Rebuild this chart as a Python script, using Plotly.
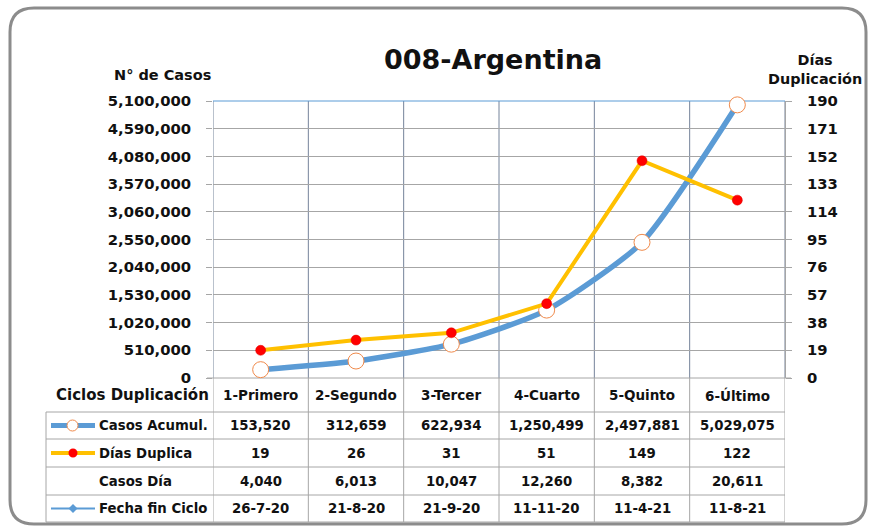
import plotly.graph_objects as go

W, H = 872, 526

categories = ["1-Primero", "2-Segundo", "3-Tercer", "4-Cuarto", "5-Quinto", "6-Último"]
casos_acum = [153520, 312659, 622934, 1250499, 2497881, 5029075]
dias_duplica = [19, 26, 31, 51, 149, 122]
casos_dia = [4040, 6013, 10047, 12260, 8382, 20611]
fecha_fin = ["26-7-20", "21-8-20", "21-9-20", "11-11-20", "11-4-21", "11-8-21"]
left_ticks = list(range(0, 5100001, 510000))
right_ticks = list(range(0, 191, 19))
row_labels = ["Casos Acumul.", "Días Duplica", "Casos Día", "Fecha fin Ciclo"]

FONT = "DejaVu Sans"
BLUE = "#5B9BD5"
YELLOW = "#FFC000"
GRID = "#A6A6A6"
VGRID = "#75839A"
TXT = "#111111"

X0, X1 = 213, 785
Y_TOP, Y_BOT = 101, 378


def px(x):
    return x / W


def py(y):
    return 1 - y / H


def fnt(size):
    return dict(family=FONT, size=size, color=TXT, weight="bold")


fig = go.Figure()

fig.add_trace(go.Scatter(
    x=categories, y=casos_acum, name="Casos Acumul.", mode="lines+markers",
    line=dict(color=BLUE, width=5.5, shape="spline", smoothing=0.6),
    marker=dict(symbol="circle", size=16, color="white", line=dict(color="#F08A4B", width=1)),
    cliponaxis=False, showlegend=False, yaxis="y"))

fig.add_trace(go.Scatter(
    x=categories, y=dias_duplica, name="Días Duplica", mode="lines+markers",
    line=dict(color=YELLOW, width=4),
    marker=dict(symbol="circle", size=10, color="#FF0000", line=dict(color="#E00000", width=0.5)),
    cliponaxis=False, showlegend=False, yaxis="y2"))

shapes = []
annotations = []

# vertical gridlines at category boundaries (plot area + table)
for i in range(len(categories) + 1):
    b = i - 0.5
    shapes.append(dict(type="line", xref="x", yref="paper", x0=b, x1=b,
                       y0=py(Y_BOT), y1=py(Y_TOP), line=dict(color=VGRID, width=1), layer="below"))
    shapes.append(dict(type="line", xref="x", yref="paper", x0=b, x1=b,
                       y0=py(522), y1=py(Y_BOT), line=dict(color=GRID, width=1), layer="below"))

# top border of plot area (blue)
shapes.append(dict(type="line", xref="paper", yref="paper", x0=px(X0), x1=px(X1),
                   y0=py(Y_TOP), y1=py(Y_TOP), line=dict(color=BLUE, width=1), layer="below"))
# x axis line
shapes.append(dict(type="line", xref="paper", yref="paper", x0=px(207), x1=px(791),
                   y0=py(Y_BOT), y1=py(Y_BOT), line=dict(color=GRID, width=1), layer="below"))

# table horizontal lines
row_lines = [412, 439, 467, 495, 522]
for yl in row_lines:
    shapes.append(dict(type="line", xref="paper", yref="paper", x0=px(46), x1=px(X1),
                       y0=py(yl), y1=py(yl), line=dict(color=GRID, width=1), layer="below"))
shapes.append(dict(type="line", xref="paper", yref="paper", x0=px(46), x1=px(46),
                   y0=py(522), y1=py(412), line=dict(color=GRID, width=1), layer="below"))

# outer rounded border
bx0, by0, bx1, by1, r = 10, 8, 866, 524, 24
path = (f"M {px(bx0 + r)},{py(by0)} L {px(bx1 - r)},{py(by0)} "
        f"Q {px(bx1)},{py(by0)} {px(bx1)},{py(by0 + r)} "
        f"L {px(bx1)},{py(by1 - r)} Q {px(bx1)},{py(by1)} {px(bx1 - r)},{py(by1)} "
        f"L {px(bx0 + r)},{py(by1)} Q {px(bx0)},{py(by1)} {px(bx0)},{py(by1 - r)} "
        f"L {px(bx0)},{py(by0 + r)} Q {px(bx0)},{py(by0)} {px(bx0 + r)},{py(by0)} Z")
shapes.append(dict(type="path", xref="paper", yref="paper", path=path,
                   line=dict(color="#8C8C8C", width=3)))

# legend keys in table
row_centers = [425.5, 453, 481, 508.5]
# Casos Acumul.
shapes.append(dict(type="line", xref="paper", yref="paper", x0=px(51), x1=px(95),
                   y0=py(row_centers[0]), y1=py(row_centers[0]), line=dict(color=BLUE, width=5)))
shapes.append(dict(type="circle", xref="paper", yref="paper", x0=px(67), x1=px(78),
                   y0=py(row_centers[0] + 5.5), y1=py(row_centers[0] - 5.5),
                   fillcolor="white", line=dict(color="#F08A4B", width=1)))
# Días Duplica
shapes.append(dict(type="line", xref="paper", yref="paper", x0=px(51), x1=px(95),
                   y0=py(row_centers[1]), y1=py(row_centers[1]), line=dict(color=YELLOW, width=4)))
shapes.append(dict(type="circle", xref="paper", yref="paper", x0=px(68.5), x1=px(77.5),
                   y0=py(row_centers[1] + 4.5), y1=py(row_centers[1] - 4.5),
                   fillcolor="#FF0000", line=dict(color="#FF0000", width=0)))
# Fecha fin Ciclo
shapes.append(dict(type="line", xref="paper", yref="paper", x0=px(51), x1=px(95),
                   y0=py(row_centers[3]), y1=py(row_centers[3]), line=dict(color=BLUE, width=2)))
cx, cy, d = 73, row_centers[3], 4.5
shapes.append(dict(type="path", xref="paper", yref="paper",
                   path=f"M {px(cx - d)},{py(cy)} L {px(cx)},{py(cy - d)} L {px(cx + d)},{py(cy)} L {px(cx)},{py(cy + d)} Z",
                   fillcolor=BLUE, line=dict(color=BLUE, width=0)))

# header row
annotations.append(dict(text="Ciclos Duplicación", xref="paper", yref="paper", x=px(211), y=py(395),
                        xanchor="right", yanchor="middle", showarrow=False, font=fnt(15)))
for c in categories:
    annotations.append(dict(text=c, xref="x", yref="paper", x=c, y=py(395),
                            xanchor="center", yanchor="middle", showarrow=False, font=fnt(13.5)))

# row labels
for lab, yc in zip(row_labels, row_centers):
    annotations.append(dict(text=lab, xref="paper", yref="paper", x=px(97), y=py(yc),
                            xanchor="left", yanchor="middle", showarrow=False, font=fnt(13.3)))

rows = [
    [f"{v:,}" for v in casos_acum],
    [str(v) for v in dias_duplica],
    [f"{v:,}" for v in casos_dia],
    fecha_fin,
]
for vals, yc in zip(rows, row_centers):
    for c, v in zip(categories, vals):
        annotations.append(dict(text=v, xref="x", yref="paper", x=c, y=py(yc),
                                xanchor="center", yanchor="middle", showarrow=False, font=fnt(13.3)))

# titles
annotations.append(dict(text="008-Argentina", xref="paper", yref="paper", x=px(493), y=py(60),
                        xanchor="center", yanchor="middle", showarrow=False, font=fnt(27)))
annotations.append(dict(text="N° de Casos", xref="paper", yref="paper", x=px(162), y=py(75),
                        xanchor="center", yanchor="middle", showarrow=False, font=fnt(14.5)))
annotations.append(dict(text="Días<br>Duplicación", xref="paper", yref="paper", x=px(815), y=py(69),
                        xanchor="center", yanchor="middle", showarrow=False, font=fnt(14.4)))

fig.update_layout(
    width=W, height=H,
    margin=dict(l=0, r=0, t=0, b=0, pad=0, autoexpand=False),
    paper_bgcolor="white", plot_bgcolor="white",
    showlegend=False,
    xaxis=dict(domain=[px(X0), px(X1)], type="category", range=[-0.5, 5.5], automargin=False,
               showticklabels=False, showgrid=False, zeroline=False, showline=False, ticks=""),
    yaxis=dict(domain=[py(Y_BOT), py(Y_TOP)], range=[0, 5100000], tickvals=left_ticks,
               tickformat=",", showgrid=True, gridcolor=GRID, gridwidth=1, zeroline=False,
               showline=False, ticks="outside", ticklen=6, tickcolor=GRID, automargin=False,
               ticklabelstandoff=12, tickfont=fnt(14.8)),
    yaxis2=dict(domain=[py(Y_BOT), py(Y_TOP)], overlaying="y", side="right", range=[0, 190],
                tickvals=right_ticks, showgrid=False, zeroline=False, showline=True,
                linecolor=GRID, ticks="outside", ticklen=6, tickcolor=GRID, automargin=False,
                ticklabelstandoff=12, tickfont=fnt(14.8)),
    shapes=shapes,
    annotations=annotations,
)

fig.write_html("out.html", config={"displayModeBar": False},
               post_script="document.body.style.margin='0';document.body.style.padding='0';")
